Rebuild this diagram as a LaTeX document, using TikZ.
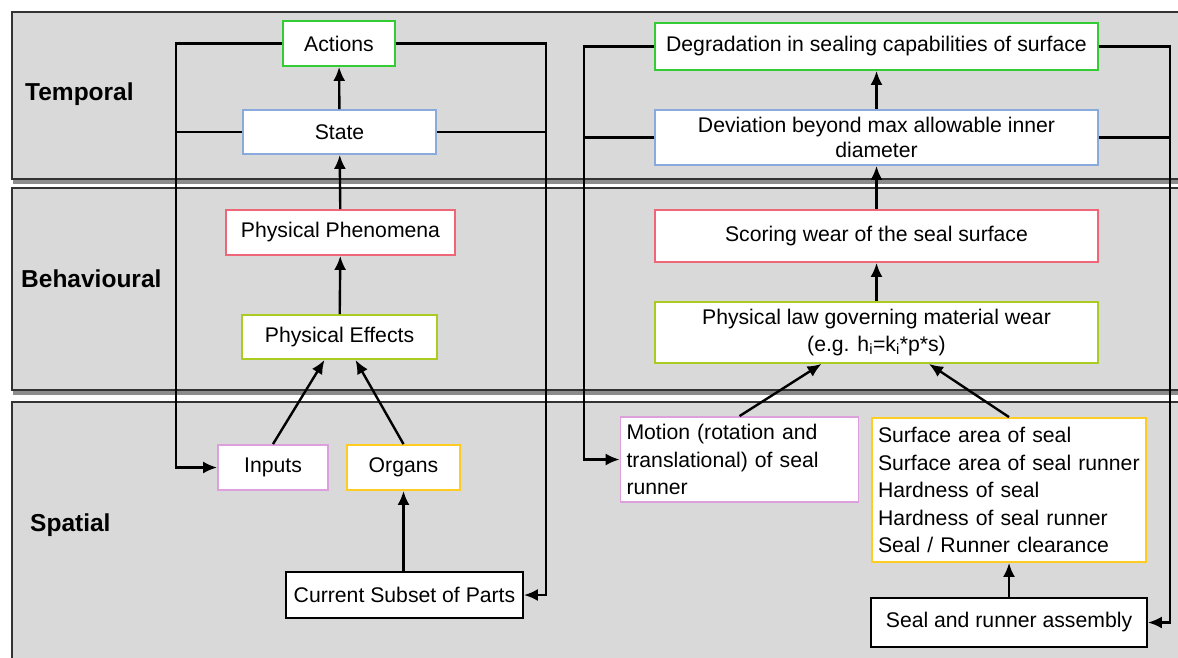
\documentclass[tikz,border=0pt]{standalone}
\usepackage{fontspec}
\setmainfont{Liberation Sans}
\usetikzlibrary{arrows.meta,calc}
\definecolor{bandfill}{HTML}{D9D9D9}
\definecolor{cgreen}{HTML}{33CC33}
\definecolor{cblue}{HTML}{88AADD}
\definecolor{cred}{HTML}{EE6677}
\definecolor{cyg}{HTML}{AACC22}
\definecolor{cpink}{HTML}{DDA0DD}
\definecolor{cyellow}{HTML}{FFCC22}
\tikzset{
  band/.style={fill=bandfill,draw=black!80,line width=1.5pt},
  bandshadow/.style={fill=black!45,draw=none},
  bandlabel/.style={font=\fontsize{24.5}{28}\selectfont\bfseries,anchor=west,inner sep=0pt},
  box/.style={draw,fill=white,line width=1.8pt,align=center,inner sep=2pt,
    font=\fontsize{21.2}{26}\selectfont},
  lbox/.style={box,align=left,text width=#1,anchor=center},
  conn/.style={line width=2.4pt,black},
  arr/.style={conn,-{Latex[length=14pt,width=12pt]}},
}
\begin{document}
\begin{tikzpicture}[x=1pt,y=-1pt]
\useasboundingbox (0,0) rectangle (1178,657);
\begin{scope}
\clip (0,0) rectangle (1178,657);
% bands
\fill[bandshadow] (13,178) rectangle (1190,184);
\draw[band] (12,12) rectangle (1190,179);
\fill[bandshadow] (13,389) rectangle (1190,395);
\draw[band] (12,188) rectangle (1190,390);
\draw[band] (12,402) rectangle (1190,670);
\end{scope}
\node[bandlabel] (lt) at (25,94) {Temporal};
\node[bandlabel] (lb) at (21,279) {Behavioural};
\node[bandlabel] (ls) at (30,525) {Spatial};

% left column
\node[box,draw=cgreen,minimum width=112,minimum height=45] (act) at (339,43.5) {Actions};
\node[box,draw=cblue,minimum width=193,minimum height=44] (st) at (339.5,132) {State};
\node[box,draw=cred,minimum width=229,minimum height=45] (ph) at (340.5,232.5) {Physical Phenomena};
\node[box,draw=cyg,minimum width=195,minimum height=44] (pe) at (339.5,337) {Physical Effects};
\node[box,draw=cpink,minimum width=110,minimum height=45] (inp) at (273,467.5) {Inputs};
\node[box,draw=cyellow,minimum width=113,minimum height=45] (org) at (403.5,467.5) {Organs};
\node[box,draw=black,minimum width=237,minimum height=46] (cs) at (404.5,595) {Current Subset of Parts};

\coordinate (L1) at (176,0);
\coordinate (R1) at (546,0);

\draw[arr] (st) -- (act);
\draw[arr] (ph) -- (st);
\draw[arr] (pe) -- (ph);
\draw[arr] (inp.north) -- ($(pe.south)+(-15,0)$);
\draw[arr] (org.north) -- ($(pe.south)+(16,0)$);
\draw[arr] (cs.north -| org.north) -- (org.south);
\draw[arr] (act.west) -- (act.west -| L1) -- (inp.west -| L1) -- (inp.west);
\draw[conn] (st.west) -- (st.west -| L1);
\draw[arr] (act.east) -- (act.east -| R1) -- (cs.east -| R1) -- (cs.east);
\draw[conn] (st.east) -- (st.east -| R1);

% right column
\node[box,draw=cgreen,minimum width=443,minimum height=47] (deg) at (876.5,46.5) {Degradation in sealing capabilities of surface};
\node[box,draw=cblue,minimum width=443,minimum height=55,font=\fontsize{21.2}{25}\selectfont] (dev) at (876.5,137.5) {Deviation beyond max allowable inner\\diameter};
\node[box,draw=cred,minimum width=443,minimum height=52] (sc) at (876.5,236) {Scoring wear of the seal surface};
\node[box,draw=cyg,minimum width=443,minimum height=61,font=\fontsize{21.2}{26.5}\selectfont] (pl) at (876.5,332.5) {Physical law governing material wear\\(e.g. h\textsubscript{i}=k\textsubscript{i}*p*s)};
\node[lbox=226pt,draw=cpink,minimum height=85,font=\fontsize{21.2}{27.5}\selectfont,inner xsep=6pt] (mo) at (739.5,459.5) {Motion (rotation and\\translational) of seal\\runner};
\node[lbox=262pt,draw=cyellow,minimum height=144,font=\fontsize{21.2}{27.5}\selectfont,inner xsep=6pt] (li) at (1009,490) {Surface area of seal\\Surface area of seal runner\\Hardness of seal\\Hardness of seal runner\\Seal / Runner clearance};
\node[box,draw=black,minimum width=276,minimum height=49] (sa) at (1009,622.5) {Seal and runner assembly};

\coordinate (L2) at (584,0);
\coordinate (R2) at (1170,0);

\draw[arr] (dev) -- (deg);
\draw[arr] (sc) -- (dev);
\draw[arr] (pl) -- (sc);
\draw[arr] (mo.north) -- ($(pl.south)+(-55,0)$);
\draw[arr] (li.north) -- ($(pl.south)+(52.5,0)$);
\draw[arr] (sa) -- (li);
\draw[arr] (deg.west) -- (deg.west -| L2) -- (mo.west -| L2) -- (mo.west);
\draw[conn] (dev.west) -- (dev.west -| L2);
\draw[arr] (deg.east) -- (deg.east -| R2) -- (sa.east -| R2) -- (sa.east);
\draw[conn] (dev.east) -- (dev.east -| R2);
\end{tikzpicture}
\end{document}
